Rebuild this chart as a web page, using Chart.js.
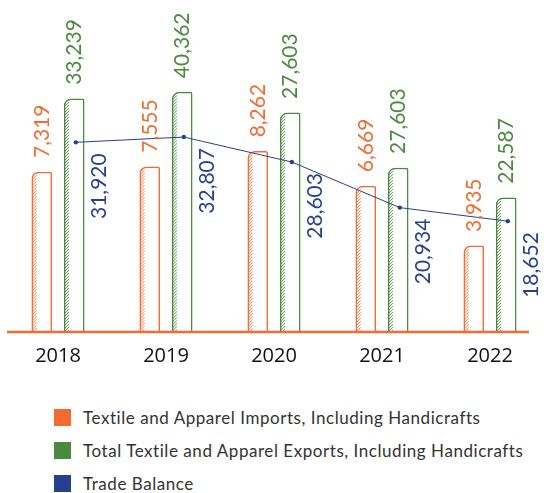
<!DOCTYPE html>
<html>
<head>
<meta charset="utf-8">
<script src="https://cdn.jsdelivr.net/npm/chart.js@4.4.0/dist/chart.umd.min.js"></script>
<style>
  html, body { margin: 0; padding: 0; background: #fff; overflow: hidden; }
  #wrap { position: relative; width: 548px; height: 493px; }
  #grafico { position: absolute; left: 0; top: 0; }
  .leyenda { position: absolute; left: 54px; top: 401px; font-family: Lato, sans-serif; font-size: 17px; letter-spacing: 0.55px; color: #333; }
  .item { display: flex; align-items: center; height: 33px; white-space: nowrap; }
  .caja { width: 17px; height: 17px; margin-right: 12px; }
</style>
</head>
<body>
<div id="wrap">
  <canvas id="grafico" width="548" height="388"></canvas>
  <div class="leyenda" id="leyenda"></div>
</div>
<script>
// ---------------- DATOS ----------------
const anios = ["2018", "2019", "2020", "2021", "2022"];
const importaciones = [7319, 7555, 8262, 6669, 3935];
const exportaciones = [39239, 40362, 36865, 27603, 22587];
const balance = [31920, 32807, 28603, 20934, 18652];
// textos tal como aparecen en la imagen
const textoExport = ["33,239", "40,362", "27,603", "27,603", "22,587"];

const nombres = [
  "Textile and Apparel Imports, Including Handicrafts",
  "Total Textile and Apparel Exports, Including Handicrafts",
  "Trade Balance"
];
const colores = ["#f26b30", "#4a8a3c", "#26408c"];

const fmt = v => v.toLocaleString("en-US");
const puntos = arr => arr.map((v, i) => ({ x: i, y: v }));

// ---------------- PLUGINS ----------------
const rayado = {
  id: "rayado",
  afterDatasetDraw(chart, args) {
    if (args.index > 1) return;
    const ctx = chart.ctx;
    const color = colores[args.index];
    args.meta.data.forEach(bar => {
      const x0 = bar.x - bar.width / 2;
      const w = 5;
      ctx.save();
      ctx.beginPath();
      ctx.rect(x0, bar.y + 3, w, bar.base - bar.y - 3);
      ctx.clip();
      ctx.strokeStyle = color;
      ctx.lineWidth = 0.9;
      for (let y = bar.y - 10; y < bar.base + 10; y += 3) {
        ctx.beginPath();
        ctx.moveTo(x0, y);
        ctx.lineTo(x0 + w, y - w);
        ctx.stroke();
      }
      ctx.restore();
    });
  }
};

// línea base naranja (algo más corta que el área del gráfico)
const base = {
  id: "base",
  afterDraw(chart) {
    const { ctx, chartArea } = chart;
    ctx.save();
    ctx.strokeStyle = colores[0];
    ctx.lineWidth = 2.5;
    ctx.beginPath();
    ctx.moveTo(chartArea.left + 3, chartArea.bottom);
    ctx.lineTo(chartArea.right - 15, chartArea.bottom);
    ctx.stroke();
    ctx.restore();
  }
};

const etiquetas = {
  id: "etiquetas",
  afterDatasetsDraw(chart) {
    const ctx = chart.ctx;
    ctx.save();
    ctx.font = "21px Lato";
    ctx.textBaseline = "middle";

    const textos = [importaciones.map(fmt), textoExport];
    [0, 1].forEach(di => {
      chart.getDatasetMeta(di).data.forEach((bar, i) => {
        ctx.save();
        ctx.translate(bar.x, bar.y - 14);
        ctx.rotate(-Math.PI / 2);
        ctx.textAlign = "left";
        ctx.fillStyle = colores[di];
        ctx.fillText(textos[di][i], 0, 0);
        ctx.restore();
      });
    });

    chart.getDatasetMeta(2).data.forEach((pt, i) => {
      ctx.save();
      ctx.translate(pt.x + 23, pt.y + 11);
      ctx.rotate(-Math.PI / 2);
      ctx.textAlign = "right";
      ctx.fillStyle = colores[2];
      ctx.fillText(fmt(balance[i]), 0, 0);
      ctx.restore();
    });
    ctx.restore();
  }
};

// ---------------- GRÁFICO ----------------
const barra = (i, datos, ejeX, ejeY) => ({
  type: "bar",
  label: nombres[i],
  data: puntos(datos),
  xAxisID: ejeX,
  yAxisID: ejeY,
  order: 1,
  grouped: false,
  barThickness: 20,
  backgroundColor: "#ffffff",
  borderColor: colores[i],
  borderWidth: 1.5,
  borderSkipped: "bottom",
  borderRadius: { topLeft: 7, topRight: 2, bottomLeft: 0, bottomRight: 0 }
});

// ejes ocultos desplazados para cada serie dentro del grupo
const ejeOculto = (desp) => ({ type: "linear", display: false, offset: false, min: -0.5 - desp, max: 4.5 - desp });

new Chart(document.getElementById("grafico"), {
  data: {
    labels: anios,
    datasets: [
      barra(0, importaciones, "xi", "y2"),
      barra(1, exportaciones, "xe", "y"),
      {
        type: "line",
        label: nombres[2],
        data: puntos(balance),
        xAxisID: "xl",
        yAxisID: "y",
        order: 0,
        borderColor: colores[2],
        borderWidth: 1,
        pointRadius: 2.2,
        pointBackgroundColor: colores[2],
        pointBorderWidth: 0,
        tension: 0
      }
    ]
  },
  options: {
    responsive: false,
    animation: false,
    layout: { padding: { left: 3, right: 1, top: 0, bottom: 8 } },
    plugins: { legend: { display: false }, tooltip: { enabled: false } },
    scales: {
      x: {
        type: "category",
        offset: true,
        grid: { display: false, drawTicks: false },
        border: { display: false },
        ticks: { color: "#111", padding: 12, font: { family: "Open Sans", size: 20 } }
      },
      xi: ejeOculto(-0.15),
      xe: ejeOculto(0.15),
      xl: ejeOculto(0.165),
      y: { display: false, min: 0, max: 55200 },
      y2: { display: false, min: 0, max: 15000 }
    }
  },
  plugins: [rayado, etiquetas, base]
});

// ---------------- LEYENDA ----------------
const leyenda = document.getElementById("leyenda");
nombres.forEach((n, i) => {
  const item = document.createElement("div");
  item.className = "item";
  const caja = document.createElement("span");
  caja.className = "caja";
  caja.style.background = colores[i];
  const txt = document.createElement("span");
  txt.textContent = n;
  item.appendChild(caja);
  item.appendChild(txt);
  leyenda.appendChild(item);
});
</script>
</body>
</html>
